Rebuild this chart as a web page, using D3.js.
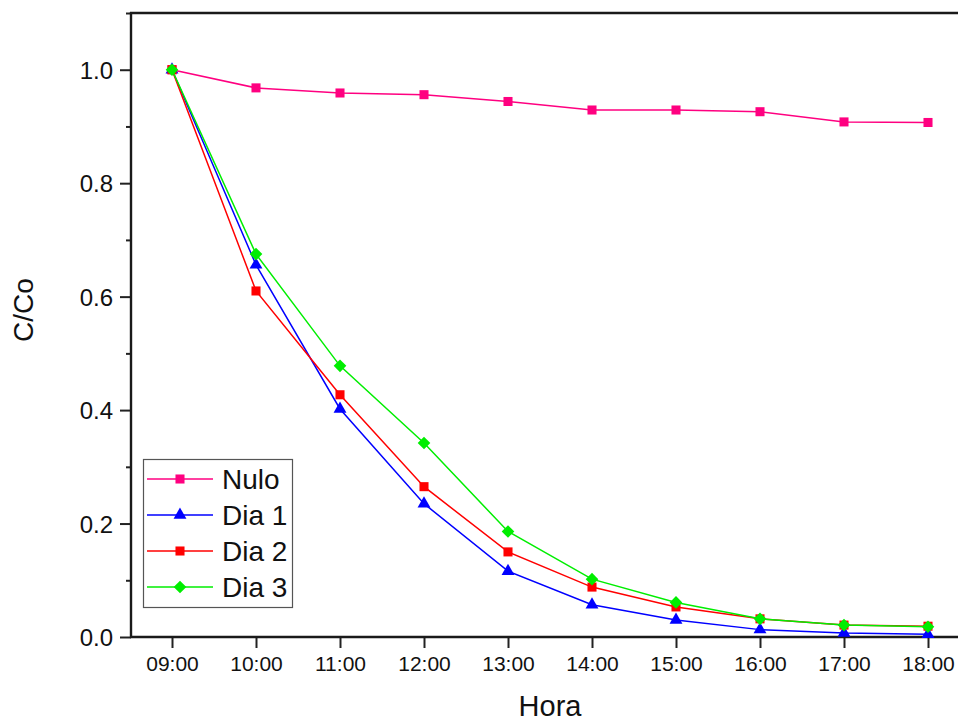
<!DOCTYPE html>
<html>
<head>
<meta charset="utf-8">
<script src="https://cdn.jsdelivr.net/npm/d3@7"></script>
<style>
  body { margin: 0; background: #fff; }
  svg { display: block; font-family: "Liberation Sans", Arial, sans-serif; }
</style>
</head>
<body>
<svg width="958" height="722"></svg>
<script>
const hours = ["09:00", "10:00", "11:00", "12:00", "13:00", "14:00", "15:00", "16:00", "17:00", "18:00"];
const nulo = [1.0, 0.968, 0.959, 0.956, 0.944, 0.929, 0.929, 0.926, 0.908, 0.907];
const dia1 = [1.0, 0.656, 0.402, 0.235, 0.116, 0.057, 0.030, 0.013, 0.007, 0.005];
const dia2 = [1.0, 0.610, 0.427, 0.265, 0.150, 0.088, 0.053, 0.032, 0.021, 0.019];
const dia3 = [1.0, 0.675, 0.478, 0.342, 0.186, 0.102, 0.061, 0.032, 0.021, 0.018];
const yMajor = [0, 0.2, 0.4, 0.6, 0.8, 1.0];
const yMinor = [0.1, 0.3, 0.5, 0.7, 0.9, 1.1];

const series = [
    { name: "Nulo", values: nulo, color: "#ff0080", symbol: d3.symbolSquare, size: 82, rot: 0 },
    { name: "Dia 1", values: dia1, color: "#0000ff", symbol: d3.symbolTriangle, size: 72, rot: 0 },
    { name: "Dia 2", values: dia2, color: "#ff0000", symbol: d3.symbolSquare, size: 82, rot: 0 },
    { name: "Dia 3", values: dia3, color: "#00ee00", symbol: d3.symbolSquare, size: 80, rot: 45 }
];

const width = 958;
const plotLeft = 131, plotTop = 13, plotBottom = 637;
const font = "Liberation Sans, Arial, sans-serif";

const svg = d3.select("svg");

const x = d3.scalePoint().domain(hours).range([172, 928]);
const y = d3.scaleLinear().domain([0, 1.1]).range([plotBottom, plotTop]);

// minor y ticks
svg.append("g")
    .attr("transform", `translate(${plotLeft},0)`)
    .call(d3.axisLeft(y).tickValues(yMinor).tickSize(5).tickFormat(""))
    .call(g => g.select(".domain").remove())
    .call(g => g.selectAll("line").attr("stroke", "#222").attr("stroke-width", 2));

// major y ticks
svg.append("g")
    .attr("transform", `translate(${plotLeft},0)`)
    .call(d3.axisLeft(y).tickValues(yMajor).tickSize(11).tickPadding(7).tickFormat(d3.format(".1f")))
    .attr("font-family", font)
    .call(g => g.select(".domain").remove())
    .call(g => g.selectAll("line").attr("stroke", "#222").attr("stroke-width", 2))
    .call(g => g.selectAll("text").attr("font-size", 24).attr("fill", "#111").attr("dy", "0.36em"));

// x axis
svg.append("g")
    .attr("transform", `translate(0,${plotBottom})`)
    .call(d3.axisBottom(x).tickSize(11).tickPadding(8))
    .attr("font-family", font)
    .call(g => g.select(".domain").remove())
    .call(g => g.selectAll("line").attr("stroke", "#222").attr("stroke-width", 2))
    .call(g => g.selectAll("text").attr("font-size", 21).attr("fill", "#111"));

// frame lines
svg.append("line").attr("x1", plotLeft).attr("x2", plotLeft).attr("y1", plotTop - 1).attr("y2", plotBottom + 1)
    .attr("stroke", "#1a1a1a").attr("stroke-width", 2.4);
svg.append("line").attr("x1", plotLeft - 1).attr("x2", width).attr("y1", plotTop).attr("y2", plotTop)
    .attr("stroke", "#1a1a1a").attr("stroke-width", 2.4);
svg.append("line").attr("x1", plotLeft - 1).attr("x2", width).attr("y1", plotBottom).attr("y2", plotBottom)
    .attr("stroke", "#1a1a1a").attr("stroke-width", 2.4);

// axis titles
svg.append("text")
    .attr("transform", `translate(33,310) rotate(-90)`)
    .attr("text-anchor", "middle")
    .attr("font-size", 28)
    .attr("fill", "#111")
    .text("C/Co");
svg.append("text")
    .attr("x", 550).attr("y", 716)
    .attr("text-anchor", "middle")
    .attr("font-size", 29)
    .attr("fill", "#111")
    .text("Hora");

const line = d3.line().x((d, i) => x(hours[i])).y(d => y(d));

series.forEach(s => {
    const g = svg.append("g");
    g.append("path")
        .attr("d", line(s.values))
        .attr("fill", "none")
        .attr("stroke", s.color)
        .attr("stroke-width", 1.5);
    g.selectAll("path.pt")
        .data(s.values)
        .join("path")
        .attr("class", "pt")
        .attr("d", d3.symbol().type(s.symbol).size(s.size))
        .attr("transform", (d, i) => `translate(${x(hours[i])},${y(d)}) rotate(${s.rot})`)
        .attr("fill", s.color);
});

// legend
const legend = svg.append("g");
legend.append("rect")
    .attr("x", 143.5).attr("y", 459.5).attr("width", 149).attr("height", 148)
    .attr("fill", "#fff").attr("stroke", "#555").attr("stroke-width", 1.2);
series.forEach((s, i) => {
    const ly = 479 + i * 36;
    legend.append("line")
        .attr("x1", 147).attr("x2", 213).attr("y1", ly).attr("y2", ly)
        .attr("stroke", s.color).attr("stroke-width", 1.5);
    legend.append("path")
        .attr("d", d3.symbol().type(s.symbol).size(s.size)())
        .attr("transform", `translate(180,${ly}) rotate(${s.rot})`)
        .attr("fill", s.color);
    legend.append("text")
        .attr("x", 222).attr("y", ly + 10)
        .attr("font-size", 28)
        .attr("fill", "#111")
        .text(s.name);
});
</script>
</body>
</html>
